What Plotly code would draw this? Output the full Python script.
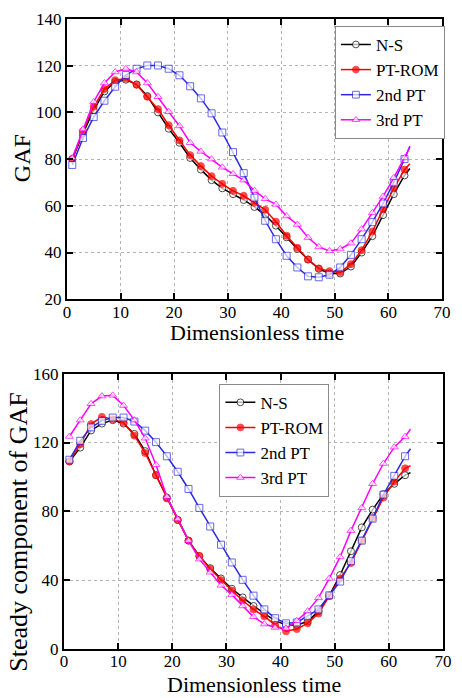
import plotly.graph_objects as go

time = [1, 3, 5, 7, 9, 11, 13, 15, 17, 19, 21, 23, 25, 27, 29, 31, 33, 35, 37, 39,
        41, 43, 45, 47, 49, 51, 53, 55, 57, 59, 61, 63, 64]

# Top panel: GAF
ns_top = [80, 91, 101, 109, 113, 114, 112, 107, 100, 93, 87, 80.5, 75.5, 71, 67.5, 65, 62.5, 59.5, 56, 51.5,
          46.5, 41.5, 37, 33, 31, 31, 34, 40, 47, 56, 65, 73, 76]
pt_top = [80, 92, 102.5, 110, 113.8, 114.5, 111.8, 106.7, 101.4, 94.5, 88, 81.7, 77, 72.7, 69.4, 66.4, 64.3, 61.3, 58.3, 53.2,
          47.2, 42, 37, 33.2, 32, 31.5, 35, 41, 49, 58.5, 67.5, 75.5, 78]
blue_top = [77.5, 89, 98, 105, 111, 116, 118.7, 120.1, 120.1, 118.7, 115.9, 111.2, 106, 99.6, 91.4, 83, 74, 63.5, 53.6, 45.7,
            38.6, 33.6, 29.8, 29.4, 30.5, 33.6, 39, 45.7, 53, 61, 70, 80, 85.5]
mag_top = [80.5, 92.8, 104.5, 112.6, 117.3, 118.7, 117.3, 112.6, 106.7, 100.3, 94.2, 87, 83.3, 80, 76.5, 73.7, 71, 66.5, 63, 60.6,
           55.6, 52, 46.4, 42.4, 40.7, 41.5, 44, 50, 57, 64, 72, 80.5, 85]

# Bottom panel: steady component of GAF
ns_bot = [109, 117, 127, 131, 133, 131, 125, 115, 101, 88, 75, 63, 54, 47, 41, 35, 30, 25, 20.5, 16.5,
          14, 14, 16, 22, 31, 43, 56.8, 70.7, 81, 90, 96, 101, 102.5]
pt_bot = [109, 119, 130.7, 134.9, 133.5, 131.6, 124, 113.9, 101, 87.5, 75, 63, 54, 46.5, 40, 34, 28.2, 23, 19, 14,
          10.3, 11.6, 15, 20.6, 30.7, 41, 50, 63, 76, 88, 97.3, 105, 106.5]
blue_bot = [110, 121, 128.8, 132.6, 134.5, 134.5, 132.2, 126.9, 120.2, 112, 103, 93, 82, 71.2, 60.6, 50.3, 40.2, 31, 23, 17.9,
            14.9, 15.4, 19.2, 23, 31.2, 39.2, 51, 63, 75.8, 89.7, 100.6, 112, 116.4]
mag_bot = [123.5, 133, 142.5, 147, 147.4, 141.5, 133, 122.5, 107, 88.5, 75.5, 63, 52.2, 44.6, 37, 31.6, 25, 18.7, 14.5, 12.5,
           12, 16.4, 22, 29.7, 41, 53.5, 68.8, 82, 96, 107.8, 117.3, 123.4, 127.8]

names = ["N-S", "PT-ROM", "2nd PT", "3rd PT"]
colors = ["#000000", "#ff0000", "#2a2ae0", "#ff00ff"]
symbols = ["circle", "circle", "square", "triangle-up"]
fills = ["#ffffff", "#ff0000", "#ffffff", "#ffffff"]

FONT = "'Liberation Serif', 'DejaVu Serif', serif"
msize = [7] * (len(time) - 1) + [0]

fig = go.Figure()

top_sets = [ns_top, pt_top, blue_top, mag_top]
bot_sets = [ns_bot, pt_bot, blue_bot, mag_bot]

for i in range(4):
    fig.add_trace(go.Scatter(
        x=time, y=top_sets[i], name=names[i], mode="lines+markers",
        line=dict(color=colors[i], width=1.5),
        marker=dict(symbol=symbols[i], size=msize, color=fills[i],
                    line=dict(color=colors[i], width=1)),
        xaxis="x", yaxis="y", legend="legend"))
for i in range(4):
    fig.add_trace(go.Scatter(
        x=time, y=bot_sets[i], name=names[i], mode="lines+markers",
        line=dict(color=colors[i], width=1.5),
        marker=dict(symbol=symbols[i], size=msize, color=fills[i],
                    line=dict(color=colors[i], width=1)),
        xaxis="x2", yaxis="y2", legend="legend2"))

axis_common = dict(
    showline=True, linecolor="black", linewidth=2, mirror="allticks",
    ticks="inside", ticklen=6, tickwidth=2, tickcolor="black",
    showgrid=True, gridcolor="#b4b4b4", griddash="dot", gridwidth=1,
    zeroline=False, tickfont=dict(family=FONT, size=17, color="black"),
)
xaxis_extra = dict(ticklabelstandoff=-4)

title_font = dict(family=FONT, size=22, color="black")

fig.update_layout(
    width=462, height=698,
    margin=dict(l=64, r=10, t=15, b=49),
    paper_bgcolor="white", plot_bgcolor="white",
    font=dict(family=FONT, color="black"),
    xaxis=dict(domain=[0.0077, 0.9974], range=[0, 70], dtick=10, anchor="y", **axis_common, **xaxis_extra),
    yaxis=dict(domain=[0.5552, 1.0], range=[20, 140], dtick=20, anchor="x", **axis_common),
    xaxis2=dict(domain=[0.0, 1.0], range=[0, 70], dtick=10, anchor="y2", **axis_common, **xaxis_extra),
    yaxis2=dict(domain=[0.0, 0.437], range=[0, 160], dtick=40, anchor="x2", **axis_common),
    legend=dict(x=1.005, y=0.989, xanchor="right", yanchor="top",
                bgcolor="white", bordercolor="#8a8a8a", borderwidth=1,
                font=dict(family=FONT, size=17), tracegroupgap=0),
    legend2=dict(x=0.41, y=0.421, xanchor="left", yanchor="top",
                 bgcolor="white", bordercolor="#8a8a8a", borderwidth=1,
                 font=dict(family=FONT, size=17), tracegroupgap=0),
    annotations=[
        dict(text="Dimensionless time", xref="paper", yref="paper", x=0.508, y=0.503,
             xanchor="center", yanchor="middle", showarrow=False, font=title_font),
        dict(text="Dimensionless time", xref="paper", yref="paper", x=0.50, y=-0.0568,
             xanchor="center", yanchor="middle", showarrow=False, font=title_font),
        dict(text="GAF", xref="paper", yref="paper", x=-0.111, y=0.779, textangle=-90,
             xanchor="center", yanchor="middle", showarrow=False, font=dict(family=FONT, size=24, color="black")),
        dict(text="Steady component of GAF", xref="paper", yref="paper", x=-0.119, y=0.186,
             textangle=-90, xanchor="center", yanchor="middle", showarrow=False,
             font=dict(family=FONT, size=26, color="black")),
    ],
)

fig.write_html("out.html")
